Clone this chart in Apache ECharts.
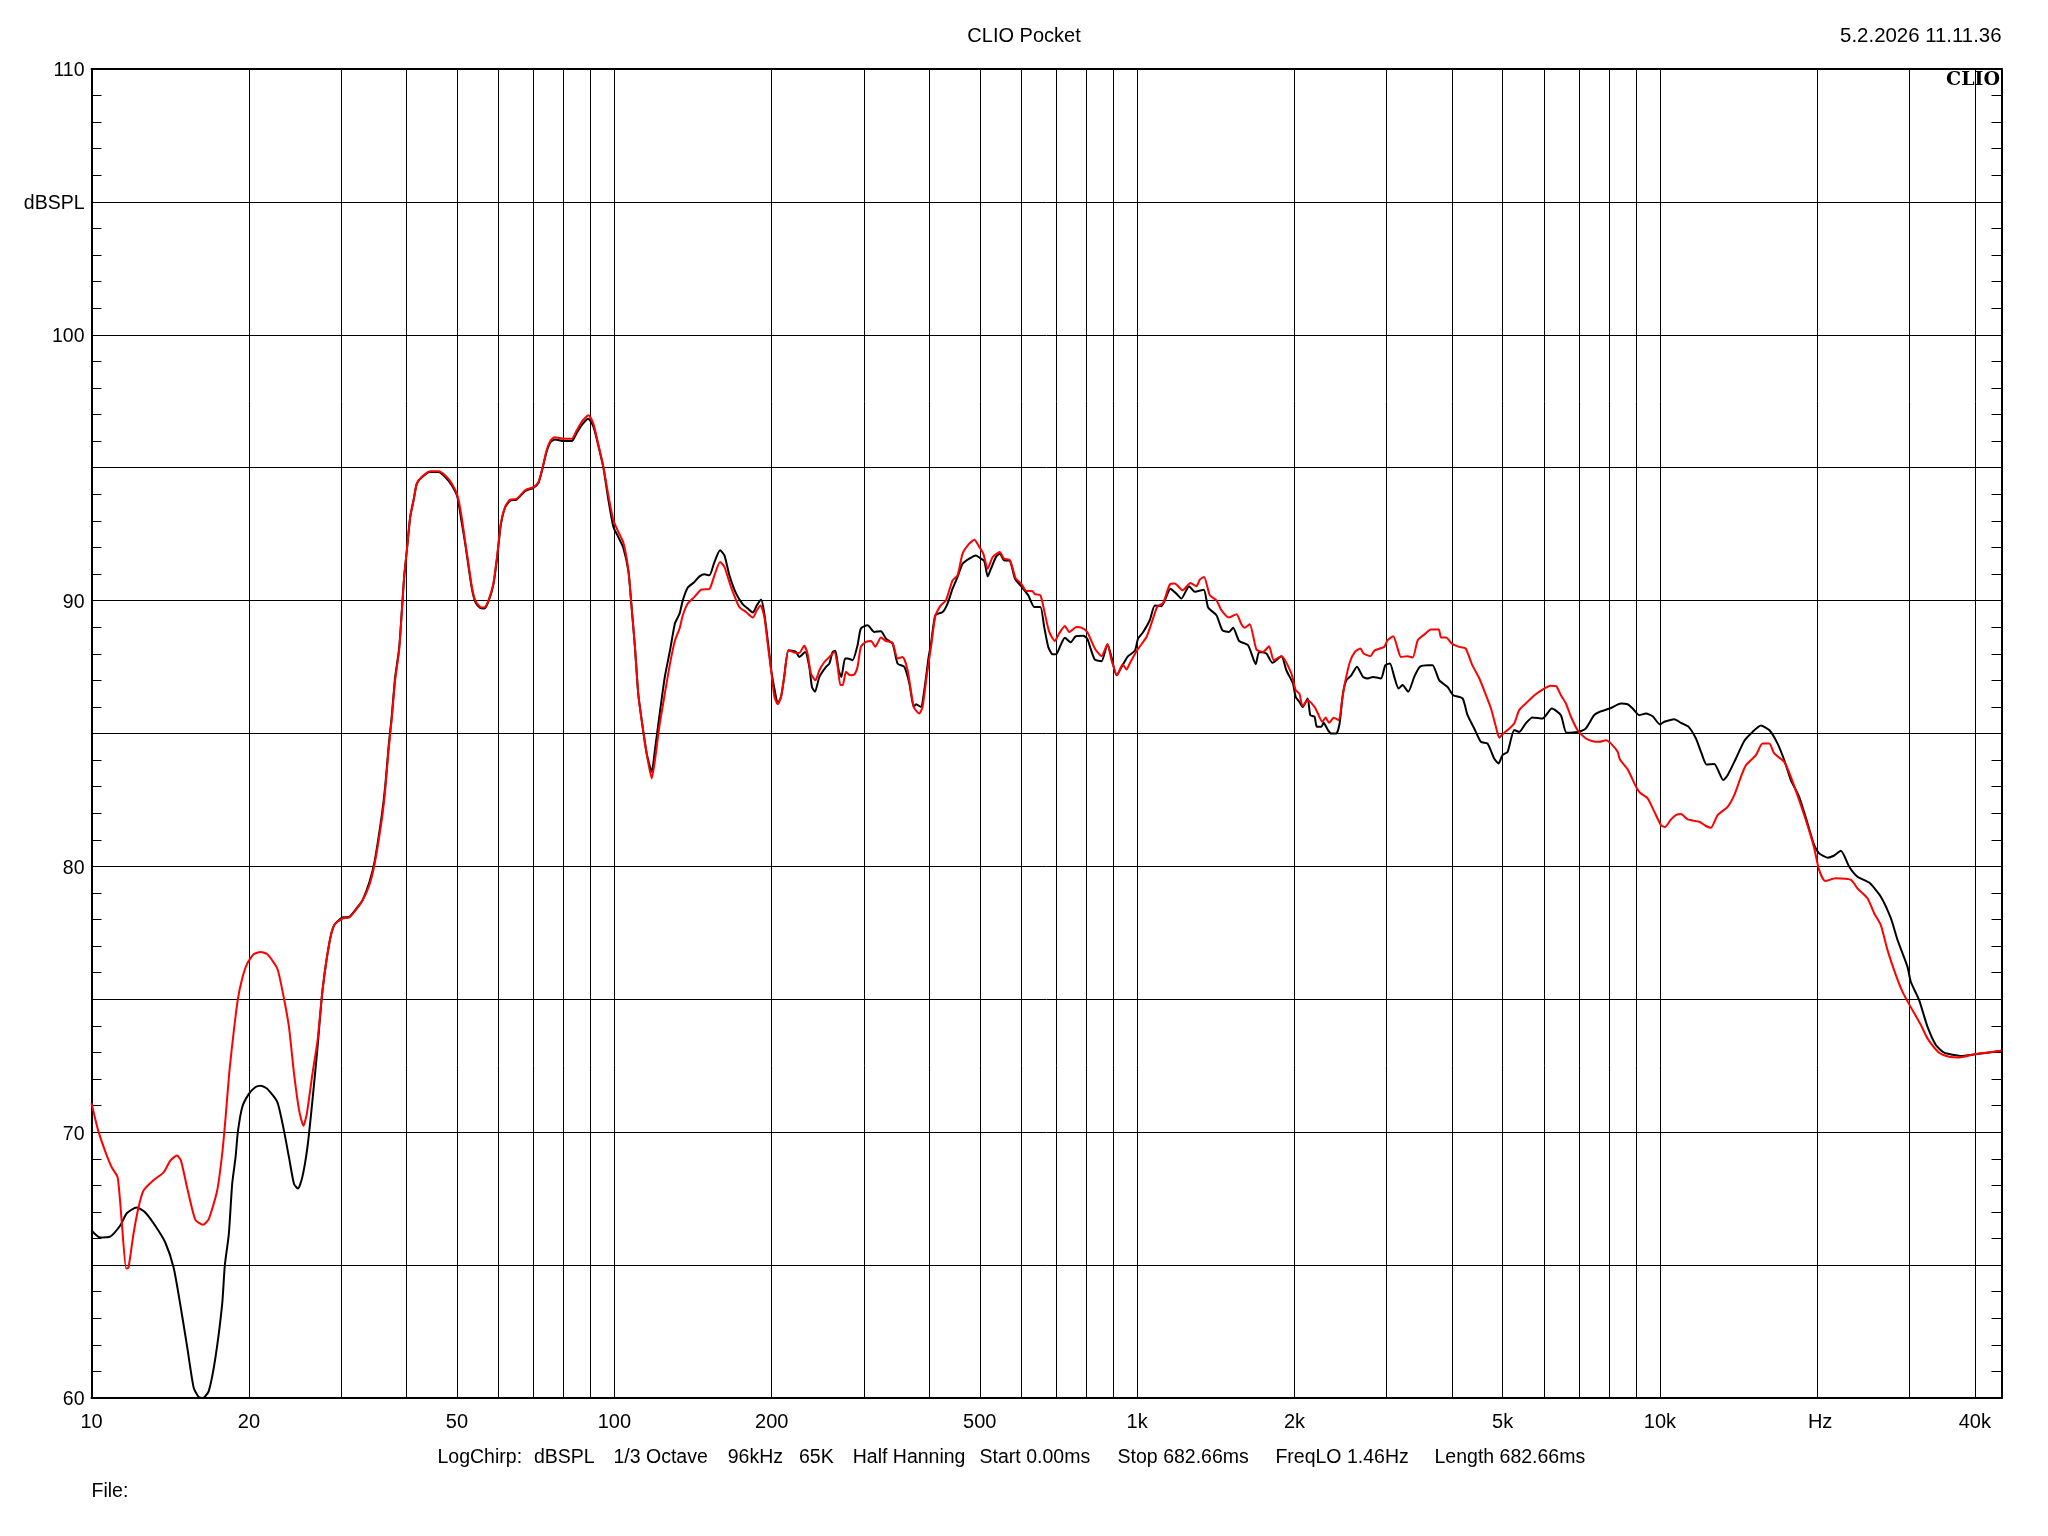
<!DOCTYPE html>
<html lang="en">
<head>
<meta charset="utf-8" />
<title>CLIO Pocket</title>
<script src="https://cdn.jsdelivr.net/npm/echarts@6/dist/echarts.min.js"></script>
<style>
  html, body { margin: 0; padding: 0; background: #fff; }
  #main { width: 2048px; height: 1536px; }
</style>
</head>
<body>
<div id="main"></div>
<script>
// frequency (Hz), level (dBSPL)
var blackCurve = [
  [10,66.3],[10.38,66.04],[10.85,66.07],[11.34,66.48],[11.68,66.95],[12.2,67.17],[12.67,66.98],[13.24,66.48],[13.84,65.85],[14.36,64.9],
  [14.78,63.53],[15.23,61.96],[15.68,60.39],[16.03,60.04],[16.34,60],[16.76,60.26],[17.26,61.52],[17.78,63.53],[17.99,65],[18.31,66.17],
  [18.58,68.05],[18.86,69.06],[19.05,70],[19.42,70.94],[20,71.44],[20.6,71.7],[21.06,71.75],[21.69,71.63],[22.67,71.13],[23.34,70.06],
  [23.86,69.06],[24.4,68.05],[24.83,67.88],[25.3,68.3],[25.88,69.43],[26.46,71.19],[27.06,73.2],[27.66,75.34],[28.49,77.1],[29.12,77.79],
  [30.2,78.08],[31.12,78.1],[32.3,78.48],[33,78.73],[34,79.4],[34.8,80.2],[35.9,81.9],[36.45,83],[37,84.5],[37.5,85.6],
  [38.08,87.1],[38.76,88.2],[39.28,89.8],[39.63,90.9],[40.1,91.89],[40.7,93.15],[41.3,93.77],[41.9,94.4],[42.8,94.63],[44.4,94.84],
  [46.1,94.84],[47.5,94.65],[48.9,94.33],[50.1,93.9],[51.05,92.95],[51.8,92.2],[52.6,91.3],[53.4,90.45],[54.2,89.95],[55.4,89.72],
  [56.4,89.7],[57.45,89.97],[58.7,90.6],[59.75,91.7],[60.65,92.85],[61.8,93.5],[63.2,93.76],[65.05,93.8],[67.5,94.12],[70,94.24],
  [71.6,94.43],[72.95,95],[74.2,95.6],[75.55,95.97],[77,96.06],[79.9,96],[82.9,96],[84.7,96.3],[87,96.65],[89.2,96.84],
  [91.2,96.55],[92.5,96.1],[95.3,95],[97.4,93.8],[99.6,92.77],[101.8,92.39],[104,92],[106.4,91.1],[107.9,89.76],[109.5,88.26],
  [111.1,86.5],[112.8,85.5],[115.3,84.25],[117.9,83.56],[119.6,84.39],[121.9,85.63],[124.9,87.13],[127.8,88.13],[130.6,89.14],[133.3,89.51],
  [135.2,90.01],[138.2,90.49],[142.3,90.7],[145.5,90.91],[148.7,90.99],[152,90.95],[155.4,91.45],[159.3,91.89],[162.4,91.7],[166,90.95],
  [171,90.26],[176.1,89.86],[180,89.7],[184,89.55],[187.3,89.82],[190.9,90.04],[193.6,89.51],[196.5,88.51],[200,87.26],[202.4,86.69],
  [205.4,86.13],[208.4,86.38],[211.3,87.13],[215.4,88.13],[222.5,88.07],[225.8,87.88],[231.8,88.07],[236,87.51],[238.8,86.75],[242,86.57],
  [246.7,87.13],[254,87.51],[257.8,87.63],[261.6,88.07],[264.7,88.11],[268.6,87.38],[271.8,87.13],[276.2,87.82],[279.4,87.82],[285.6,87.76],
  [291.9,88.32],[296.2,88.95],[305.1,89.07],[314.2,88.82],[323.6,88.85],[330.8,88.57],[340.6,88.38],[348.2,87.63],[358.6,87.51],[366.7,86.88],
  [373.8,86],[377.7,86.1],[385.8,86],[391.6,86.63],[399.2,87.88],[403.4,88.38],[411.1,89.45],[424.5,89.57],[433.9,89.89],[443.6,90.45],
  [453.4,90.89],[463.6,91.39],[477.4,91.58],[491.6,91.7],[498.9,91.62],[510,91.49],[517.7,90.91],[525.3,91.2],[537,91.64],[546.2,91.77],
  [556,91.52],[571,91.49],[583.8,90.83],[600,90.54],[619,90.2],[635.5,89.76],[653,89.76],[664,89.01],[676,88.26],[689,87.98],
  [700,87.98],[713.7,88.32],[727.4,88.6],[746,88.43],[763.2,88.66],[788.6,88.68],[802.6,88.57],[814.5,88.2],[830,87.78],[854.6,87.72],
  [877.6,88.36],[893,87.88],[913,87.19],[940,87.61],[961,87.91],[990,88.11],[1004,88.57],[1027,88.82],[1057,89.26],[1081,89.82],
  [1113,89.79],[1158,90.45],[1189,90.26],[1215,90.08],[1257,90.54],[1289,90.33],[1341,90.41],[1367,89.74],[1418,89.45],[1456,88.88],
  [1499,88.82],[1526,88.98],[1567,88.48],[1630,88.32],[1686,87.61],[1711,88.07],[1767,88.01],[1814,87.66],[1888,87.91],[1929,87.38],
  [1986,86.88],[2010,86.38],[2043,86.19],[2073,86],[2119,86.32],[2144,85.69],[2184,85.63],[2207,85.25],[2250,85.25],[2273,85.4],
  [2317,85.13],[2351,85],[2404,85],[2439,85.38],[2475,86.5],[2512,87],[2568,87.19],[2633,87.51],[2703,87.13],[2763,87.07],
  [2824,87.13],[2926,87.07],[2983,87.57],[3044,87.63],[3103,87.13],[3162,86.69],[3218,86.82],[3300,86.57],[3388,87.13],[3474,87.51],
  [3595,87.57],[3673,87.57],[3784,87],[3924,86.75],[4023,86.44],[4192,86.32],[4285,85.69],[4413,85.19],[4543,84.69],[4680,84.62],
  [4818,84.06],[4911,83.87],[4998,84.19],[5112,84.31],[5262,85.13],[5380,85.06],[5537,85.38],[5702,85.6],[5961,85.56],[6211,85.94],
  [6463,85.69],[6625,85.03],[6955,85.06],[7213,85.19],[7482,85.69],[7656,85.81],[8014,85.94],[8425,86.13],[8673,86.1],[8867,85.94],
  [9130,85.69],[9402,85.75],[9683,85.65],[10000,85.34],[10193,85.44],[10652,85.54],[10967,85.4],[11346,85.25],[11716,84.81],[11980,84.31],
  [12280,83.83],[12700,83.85],[13216,83.25],[13470,83.43],[13973,84.06],[14494,84.72],[15034,85.06],[15596,85.3],[16182,85.13],[16785,84.62],
  [17285,84],[17796,83.25],[18460,82.62],[19150,81.62],[19724,80.8],[20160,80.49],[20919,80.33],[21540,80.41],[22182,80.59],[23010,79.99],
  [23870,79.61],[25125,79.39],[26450,78.86],[27640,78.05],[28470,77.23],[29740,76.23],[30180,75.66],[31310,74.97],[32480,73.97],[33700,73.28],
  [34960,72.99],[36260,72.91],[37610,72.87],[40000,72.93],[45000,73.06]
];
var redCurve = [
  [10,71.09],[10.3,70.06],[10.61,69.31],[10.93,68.68],[11.22,68.3],[11.42,66.67],[11.65,64.87],[11.77,64.91],[12.03,66.17],[12.3,67.17],
  [12.57,67.8],[13.15,68.2],[13.74,68.49],[14.15,68.93],[14.57,69.12],[14.83,68.93],[15.23,67.93],[15.8,66.7],[16.34,66.52],[16.76,66.73],
  [17.39,67.8],[17.78,69.18],[18.05,70.56],[18.36,72.32],[18.72,73.83],[19.05,75],[19.42,75.78],[19.85,76.34],[20.44,76.7],[21.06,76.78],
  [21.69,76.7],[22.67,76.15],[23.34,75.03],[23.86,73.96],[24.4,72.2],[24.95,70.82],[25.43,70.24],[25.81,70.69],[26.46,72.2],[27.06,73.45],
  [27.66,75.34],[28.49,77.1],[29.12,77.79],[30.2,78.04],[31.12,78.08],[32,78.35],[33,78.73],[34,79.3],[34.8,80.1],[35.9,81.74],
  [36.45,82.87],[37,84.37],[37.5,85.5],[38.08,87],[38.76,88.13],[39.28,89.76],[39.63,90.89],[40.1,91.89],[40.7,93.15],[41.3,93.77],
  [41.9,94.4],[42.8,94.65],[44.4,94.87],[46.1,94.87],[47.5,94.71],[48.9,94.4],[50.1,93.96],[51.05,93.15],[51.8,92.27],[52.6,91.39],
  [53.4,90.51],[54.2,90.01],[55.4,89.76],[56.4,89.74],[57.45,90.01],[58.7,90.64],[59.75,91.77],[60.65,92.89],[61.8,93.52],[63.2,93.8],
  [65.05,93.83],[67.5,94.15],[70,94.27],[71.6,94.46],[72.95,95.03],[74.2,95.65],[75.55,96.03],[77,96.15],[79.9,96.09],[82.9,96.09],
  [84.7,96.4],[87,96.78],[89.2,96.97],[91.2,96.65],[92.5,96.15],[95.3,95.03],[97.4,93.96],[99.6,93.02],[101.8,92.58],[104,92.2],
  [106.4,91.14],[107.9,89.76],[109.5,88.26],[111.1,86.5],[112.8,85.5],[115.3,84.25],[117.9,83.31],[119.6,84],[121.9,85.25],[124.9,86.5],
  [127.8,87.63],[130.6,88.5],[133.3,88.95],[135.2,89.45],[138.2,89.89],[142.3,90.14],[146.6,90.41],[152,90.44],[155.4,90.95],[159.3,91.45],
  [162.4,91.27],[167.2,90.51],[173.4,89.76],[178.6,89.57],[184,89.36],[187.3,89.64],[190.4,89.82],[193.6,89.39],[196.5,88.38],[200,87.19],
  [202.4,86.38],[205.4,86.1],[208.4,86.38],[211.3,87.13],[215.4,88.13],[222.5,88.03],[225.8,88.03],[230.8,88.3],[234.2,88],[237.7,87.26],
  [242.5,87],[246.7,87.38],[252.2,87.69],[257.8,87.88],[263.6,88.07],[267.4,87.51],[270.6,86.82],[273.4,86.82],[277.4,87.32],[282.4,87.19],
  [287.8,87.22],[291.9,87.51],[296.2,88.26],[303,88.45],[309.8,88.48],[315.6,88.26],[323.6,88.61],[330.8,88.48],[340.6,88.41],[348.2,87.82],
  [356,87.88],[363.9,87.38],[373.8,86],[383,85.75],[388.7,86],[395.6,87.13],[403.4,88.26],[411.1,89.41],[421,89.82],[430.7,90.01],
  [443.6,90.76],[453.4,90.95],[463.6,91.77],[477.4,92.14],[488.2,92.29],[498.9,92.02],[507.8,91.77],[517.7,91.2],[529.3,91.64],[546.2,91.83],
  [556,91.58],[571,91.52],[586,90.83],[600,90.64],[614,90.36],[630,90.36],[637.5,90.24],[653,90.2],[666,89.51],[679,88.82],
  [696,88.48],[709,88.76],[727.4,89.04],[741.4,88.82],[765.5,89.01],[782.4,88.98],[802.6,88.82],[830,88.2],[854.6,87.91],[877.6,88.36],
  [893,87.76],[916,87.19],[938,87.61],[954,87.41],[971,87.69],[1000,88.13],[1042,88.63],[1065,89.14],[1092,89.76],[1121,89.91],
  [1155,90.61],[1180,90.64],[1221,90.39],[1265,90.66],[1298,90.54],[1318,90.79],[1343,90.89],[1377,90.2],[1418,90.01],[1449,89.64],
  [1499,89.36],[1549,89.49],[1583,89.11],[1606,88.98],[1642,89.11],[1691,88.16],[1741,88.07],[1788,88.28],[1825,87.76],[1888,87.91],
  [1972,87.26],[2010,86.63],[2043,86.5],[2073,86.03],[2119,86.25],[2184,86],[2217,85.75],[2260,85.44],[2294,85.6],[2328,85.4],
  [2377,85.59],[2431,85.5],[2463,86.19],[2496,86.88],[2552,87.69],[2609,88.07],[2672,88.2],[2710,88.01],[2792,87.91],[2847,88.13],
  [2969,88.26],[3013,88.51],[3089,88.66],[3149,88.2],[3195,87.88],[3290,87.91],[3366,87.86],[3441,88.51],[3545,88.73],[3645,88.91],
  [3774,88.91],[3813,88.61],[3899,88.61],[3999,88.38],[4127,88.26],[4247,88.2],[4376,87.57],[4514,87.07],[4648,86.44],[4751,85.94],
  [4855,85.25],[4928,84.84],[5015,85],[5112,85.13],[5262,85.38],[5380,85.88],[5537,86.13],[5752,86.44],[6005,86.69],[6173,86.8],
  [6330,86.78],[6463,86.44],[6608,86.13],[6757,85.63],[6955,85.13],[7216,84.81],[7437,84.71],[7656,84.69],[7885,84.75],[8060,84.62],
  [8300,84.31],[8384,84.02],[8673,83.65],[8997,83],[9158,82.77],[9471,82.56],[9754,82.06],[10044,81.55],[10224,81.48],[10496,81.77],
  [10762,81.95],[10967,81.97],[11295,81.77],[11890,81.68],[12240,81.52],[12515,81.45],[12890,81.93],[13470,82.24],[13870,82.68],[14283,83.37],
  [14604,83.81],[15260,84.19],[15710,84.62],[16182,84.62],[16540,84.25],[17285,83.93],[17796,83.37],[18460,82.49],[19150,81.55],[19724,80.68],
  [20160,79.86],[20700,79.45],[21690,79.55],[23180,79.49],[23870,79.17],[24940,78.8],[25690,78.23],[26450,77.79],[27240,76.85],[28260,75.91],
  [29090,75.29],[30010,74.79],[31540,74.04],[32480,73.53],[34190,72.99],[35730,72.84],[37220,72.81],[40000,72.93],[45000,73.06]
];

var gridFreqs = [10,20,30,40,50,60,70,80,90,100,200,300,400,500,600,700,800,900,1000,2000,3000,4000,5000,6000,7000,8000,9000,10000,20000,30000,40000];
var xLabelFreqs = [10,20,50,100,200,500,1000,2000,5000,10000,20000,40000];
var xLabelTexts = ['10','20','50','100','200','500','1k','2k','5k','10k',' Hz','40k'];
var yLabelTexts = { 60:'60', 70:'70', 80:'80', 90:'90', 100:'100', 105:'dBSPL', 110:'110' };

var footerTexts = ['LogChirp:','dBSPL','1/3 Octave','96kHz','65K','Half Hanning','Start 0.00ms','Stop 682.66ms','FreqLO 1.46Hz','Length 682.66ms'];
var footerX = [437.5,534,613.5,727.7,799,852.7,979.6,1117.6,1275.4,1434.5];

var FONT = '"Liberation Sans", Arial, sans-serif';
var FS = 20;

function yAxisOpt(pos, showLabels) {
  return {
    type: 'value', position: pos, min: 60, max: 110, interval: 5,
    axisLine: { show: true, onZero: false, lineStyle: { color: '#000', width: 2 } },
    axisTick: { show: false, inside: true, length: 10 },
    minorTick: { show: true, splitNumber: 5, length: 10, lineStyle: { color: '#000', width: 1 } },
    splitLine: { show: showLabels, lineStyle: { color: '#000', width: 1 } },
    axisLabel: {
      show: showLabels, color: '#000', margin: 7,
      showMinLabel: true, showMaxLabel: true,
      rich: { t: { fontFamily: FONT, fontSize: 19.5, color: '#000', padding: [4, 0, 0, 0] } },
      formatter: function (v) { return yLabelTexts[v] ? '{t|' + yLabelTexts[v] + '}' : ''; }
    }
  };
}

var texts = [
  { text: 'CLIO Pocket', x: 1024, y: 36, align: 'center', font: FS + 'px ' + FONT },
  { text: '5.2.2026 11.11.36', x: 2001.5, y: 36, align: 'right', font: '20.4px ' + FONT },
  { text: 'CLIO', x: 2000, y: 80, align: 'right', font: 'bold 19px "DejaVu Serif", serif' },
  { text: 'File:', x: 91.5, y: 1491.5, align: 'left', font: '19.5px ' + FONT }
];
footerTexts.forEach(function (t, i) {
  texts.push({ text: t, x: footerX[i], y: 1458, align: 'left', font: '19.5px ' + FONT });
});

var myChart = echarts.init(document.getElementById('main'), null, { renderer: 'canvas' });
myChart.setOption({
  animation: false,
  backgroundColor: '#fff',
  grid: { left: 91.5, right: 46.5, top: 69, bottom: 138, show: false },
  xAxis: [{
    type: 'log', logBase: 10, min: 10, max: 45000, position: 'bottom',
    axisLine: { show: true, onZero: false, lineStyle: { color: '#000', width: 2 } },
    axisTick: { show: false, customValues: gridFreqs },
    minorTick: { show: false },
    splitLine: { show: true, lineStyle: { color: '#000', width: 1 } },
    minorSplitLine: { show: false },
    axisLabel: {
      color: '#000', fontFamily: FONT, fontSize: FS, margin: 14,
      customValues: xLabelFreqs, hideOverlap: false,
      formatter: function (v) {
        var i = xLabelFreqs.indexOf(Math.round(v));
        return i < 0 ? '' : xLabelTexts[i];
      }
    }
  }, {
    type: 'log', logBase: 10, min: 10, max: 45000, position: 'top',
    axisLine: { show: true, onZero: false, lineStyle: { color: '#000', width: 2 } },
    axisTick: { show: false }, axisLabel: { show: false }, splitLine: { show: false }
  }],
  yAxis: [yAxisOpt('left', true), yAxisOpt('right', false)],
  graphic: texts.map(function (t) {
    return { type: 'text', silent: true, style: {
      text: t.text, x: t.x, y: t.y, font: t.font, fill: '#000', align: t.align, verticalAlign: 'middle'
    } };
  }),
  series: [
    { type: 'line', name: 'black', data: blackCurve, showSymbol: false, smooth: 0.2, z: 3,
      lineStyle: { color: '#000', width: 2 }, clip: false },
    { type: 'line', name: 'red', data: redCurve, showSymbol: false, smooth: 0.2, z: 4,
      lineStyle: { color: '#f00', width: 2 }, clip: false }
  ]
});
</script>
</body>
</html>
